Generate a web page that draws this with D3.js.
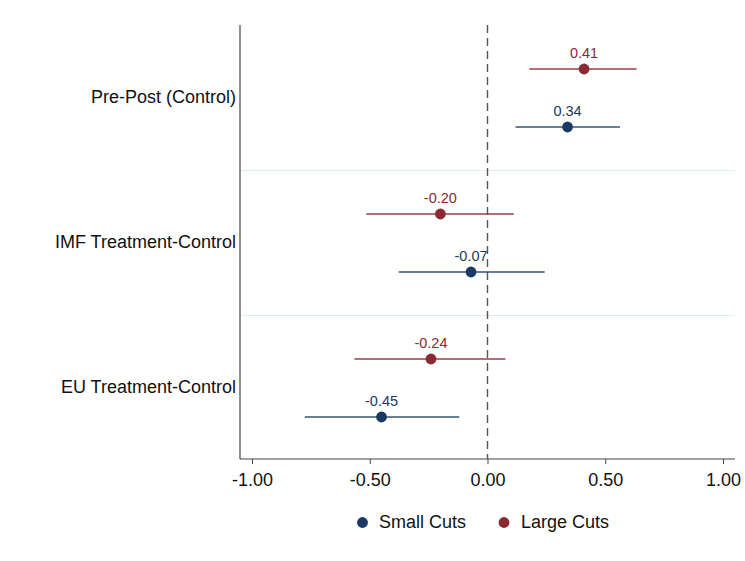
<!DOCTYPE html>
<html><head><meta charset="utf-8">
<script src="https://cdn.jsdelivr.net/npm/d3@7"></script>
<style>body{margin:0;background:#fff;}svg{display:block;font-family:"Liberation Sans",Arial,Helvetica,sans-serif;}</style>
</head><body><svg id="c" width="745" height="561"></svg>
<script>
const categories = ["Pre-Post (Control)", "IMF Treatment-Control", "EU Treatment-Control"];
const seriesNames = ["Large Cuts", "Small Cuts"];
const largeEst = [0.41, -0.20, -0.24];
const largeLo  = [0.178, -0.515, -0.565];
const largeHi  = [0.633, 0.112, 0.076];
const smallEst = [0.34, -0.07, -0.45];
const smallLo  = [0.119, -0.377, -0.776];
const smallHi  = [0.563, 0.243, -0.120];
const xTicks = [-1, -0.5, 0, 0.5, 1];

const colors = {"Large Cuts": "#8a2a32", "Small Cuts": "#1a3a64"};
const lineColors = {"Large Cuts": "#9a3f47", "Small Cuts": "#355377"};
const fmt = v => d3.format(".2f")(v).replace("\u2212", "-");

const svg = d3.select("#c");
const pLeft = 240, pRight = 735, pTop = 25, pBottom = 459;
const x = d3.scaleLinear().domain([-1.051, 1.051]).range([pLeft, pRight]);
const yBand = d3.scaleBand().domain(categories).range([25.5, 460.5]);
const ySub = d3.scalePoint().domain(seriesNames).range([-29, 29]);

// separators
svg.selectAll("line.sep").data(categories.slice(1)).enter().append("line")
  .attr("x1", pLeft).attr("x2", pRight)
  .attr("y1", d => yBand(d)).attr("y2", d => yBand(d))
  .attr("stroke", "#dfecf0").attr("stroke-width", 1.2);

// y axis line
svg.append("line").attr("x1", pLeft).attr("x2", pLeft).attr("y1", pTop).attr("y2", pBottom)
  .attr("stroke", "#444").attr("stroke-width", 1.2);

// category labels
svg.selectAll("text.cat").data(categories).enter().append("text")
  .attr("x", 236).attr("y", d => yBand(d) + yBand.bandwidth()/2)
  .attr("text-anchor", "end").attr("dominant-baseline", "middle")
  .attr("font-size", 18).attr("fill", "#111").text(d => d);

// x axis
const xAxis = d3.axisBottom(x).tickValues(xTicks).tickSize(5).tickPadding(9).tickFormat(fmt);
const gx = svg.append("g").attr("transform", `translate(0,${pBottom})`).call(xAxis);
gx.select(".domain").attr("stroke", "#444").attr("stroke-width", 1.2).attr("d", `M${pLeft},0H${pRight}`);
gx.selectAll(".tick line").attr("stroke", "#444");
gx.selectAll(".tick text").attr("font-size", 18).attr("fill", "#111").attr("font-family", "Liberation Sans, Arial, sans-serif");

// zero line
svg.append("line").attr("x1", x(0)).attr("x2", x(0)).attr("y1", pTop).attr("y2", pBottom)
  .attr("stroke", "#555").attr("stroke-width", 1.4).attr("stroke-dasharray", "8,5");

const rows = [];
categories.forEach((c, i) => {
  rows.push({cat: c, s: "Large Cuts", est: largeEst[i], lo: largeLo[i], hi: largeHi[i]});
  rows.push({cat: c, s: "Small Cuts", est: smallEst[i], lo: smallLo[i], hi: smallHi[i]});
});
const yOf = d => yBand(d.cat) + yBand.bandwidth()/2 + ySub(d.s);

svg.selectAll("line.ci").data(rows).enter().append("line")
  .attr("x1", d => x(d.lo)).attr("x2", d => x(d.hi))
  .attr("y1", yOf).attr("y2", yOf)
  .attr("stroke", d => lineColors[d.s]).attr("stroke-width", 1.6);
svg.selectAll("circle.pt").data(rows).enter().append("circle")
  .attr("cx", d => x(d.est)).attr("cy", yOf).attr("r", 5.4)
  .attr("fill", d => colors[d.s]);
svg.selectAll("text.val").data(rows).enter().append("text")
  .attr("x", d => x(d.est)).attr("y", d => yOf(d) - 11.5)
  .attr("text-anchor", "middle").attr("font-size", 14.5)
  .attr("fill", d => colors[d.s]).text(d => fmt(d.est));

// legend
const legend = [{s: "Small Cuts", cx: 362.5, tx: 379}, {s: "Large Cuts", cx: 504, tx: 521}];
const lg = svg.selectAll("g.lg").data(legend).enter().append("g");
lg.append("circle").attr("cx", d => d.cx).attr("cy", 522.5).attr("r", 5.4).attr("fill", d => colors[d.s]);
lg.append("text").attr("x", d => d.tx).attr("y", 523).attr("dominant-baseline", "middle")
  .attr("font-size", 18).attr("fill", "#111").text(d => d.s);
</script></body></html>
